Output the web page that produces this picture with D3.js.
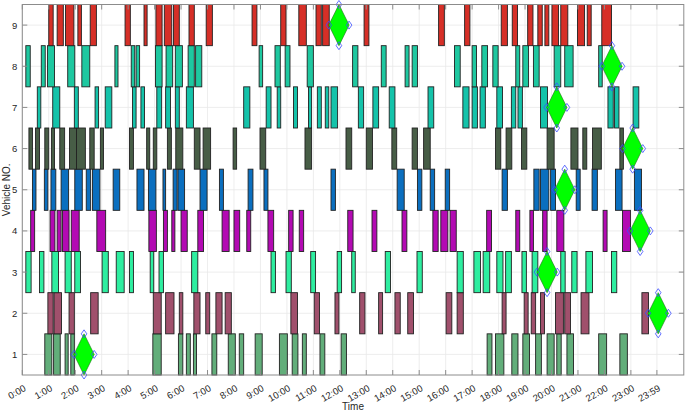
<!DOCTYPE html>
<html><head><meta charset="utf-8">
<script src="https://cdn.jsdelivr.net/npm/d3@7"></script>
<style>body{margin:0;background:#fff}svg{display:block;font-family:"Liberation Sans",Arial,Helvetica,sans-serif}</style>
</head><body><svg id="c" width="685" height="412"></svg>
<script>
// Time intervals (minutes from midnight) per vehicle row
const row1 = [[51,67],[71,86],[97,104],[110,118],[296,315],[354,364],[372,381],[388,395],[430,441],[467,483],[492,502],[528,544],[583,601],[612,625],[635,644],[675,686],[723,735],[1054,1065],[1073,1092],[1110,1124],[1135,1150],[1164,1177],[1190,1206],[1212,1222],[1235,1250],[1307,1325],[1355,1372]];
const row2 = [[58,70],[72,89],[106,118],[155,172],[297,315],[325,344],[356,364],[389,403],[416,425],[439,453],[460,474],[609,624],[662,674],[709,718],[765,777],[808,817],[845,857],[874,887],[961,974],[986,1000],[1088,1097],[1138,1147],[1154,1164],[1175,1184],[1209,1227],[1230,1243],[1267,1285],[1405,1420]];
const row3 = [[8,20],[39,49],[67,82],[97,111],[119,132],[181,195],[213,231],[243,252],[290,298],[310,320],[384,398],[564,574],[598,610],[654,665],[714,724],[747,755],[823,835],[895,907],[986,1000],[1024,1039],[1045,1060],[1076,1090],[1096,1109],[1133,1143],[1156,1169],[1221,1231],[1246,1258],[1278,1293],[1336,1348]];
const row4 = [[19,28],[63,74],[79,88],[91,106],[111,129],[169,189],[287,304],[320,329],[339,346],[360,374],[398,411],[453,469],[480,493],[509,518],[557,570],[604,614],[628,638],[738,750],[793,804],[861,872],[931,943],[949,965],[970,984],[1053,1064],[1119,1128],[1151,1159],[1180,1190],[1212,1228],[1317,1326],[1361,1379]];
const row5 = [[23,31],[50,58],[65,76],[88,105],[119,136],[145,155],[159,176],[206,221],[260,276],[286,303],[319,325],[342,351],[353,368],[403,419],[447,456],[512,523],[548,557],[700,710],[850,866],[896,906],[925,935],[959,969],[1088,1100],[1160,1172],[1175,1194],[1198,1209],[1256,1265],[1292,1304],[1345,1360],[1388,1404]];
const row6 = [[15,23],[30,39],[51,60],[66,73],[85,96],[107,123],[123,143],[153,163],[177,184],[243,252],[282,289],[297,305],[329,338],[348,364],[390,403],[410,427],[478,486],[539,552],[641,656],[734,747],[780,794],[838,849],[884,896],[910,925],[1073,1085],[1097,1110],[1132,1144],[1190,1206],[1244,1260],[1271,1280],[1293,1313],[1355,1363]];
const row7 = [[34,42],[69,85],[118,127],[165,173],[188,203],[250,258],[269,277],[305,316],[325,336],[347,356],[372,388],[502,516],[553,564],[578,586],[615,624],[649,656],[669,678],[687,695],[700,715],[762,774],[795,808],[832,845],[920,933],[999,1013],[1020,1032],[1038,1050],[1076,1089],[1109,1119],[1124,1134],[1175,1191],[1328,1340],[1343,1353],[1385,1398]];
const row8 = [[8,18],[43,52],[57,73],[103,119],[135,153],[210,217],[247,255],[258,266],[302,317],[326,341],[347,363],[376,390],[393,407],[537,545],[573,585],[596,607],[646,660],[749,761],[814,825],[868,877],[884,896],[980,993],[1020,1030],[1042,1055],[1067,1079],[1119,1128],[1135,1148],[1159,1172],[1206,1221],[1230,1249],[1307,1315]];
const row9 = [[60,70],[79,93],[98,117],[126,134],[154,168],[233,245],[276,283],[303,317],[322,339],[343,356],[378,390],[417,431],[521,532],[586,598],[627,644],[666,678],[681,696],[775,786],[944,957],[1003,1015],[1086,1100],[1111,1123],[1146,1158],[1169,1179],[1185,1194],[1201,1216],[1221,1237],[1259,1275],[1281,1290],[1314,1336]];
const vehicles = [1,2,3,4,5,6,7,8,9];
const rowColors = ["#62ae7a","#a0506c","#2eeea0","#b30ab3","#0b6fbf","#475d46","#14c3aa","#1ec8a0","#d62f27"];
// diamond marker centre time per vehicle (1..9)
const diamondTimes = [140,1442,1190,1401,1230,1384,1212,1337,718];
const diamondHalfWidth = 23;
const xTickValues = [0,60,120,180,240,300,360,420,480,540,600,660,720,780,840,900,960,1020,1080,1140,1200,1260,1320,1380,1439];
const xTickLabels = ["0:00","1:00","2:00","3:00","4:00","5:00","6:00","7:00","8:00","9:00","10:00","11:00","12:00","13:00","14:00","15:00","16:00","17:00","18:00","19:00","20:00","21:00","22:00","23:00","23:59"];
const yTickValues = [1,2,3,4,5,6,7,8,9];

const rows = [row1,row2,row3,row4,row5,row6,row7,row8,row9];
const svg = d3.select("#c");
const L = 22.3, R = 683.8, T = 4.5, B = 375;
const x = d3.scaleLinear().domain([0,1500]).range([L,R]);
const y = d3.scaleLinear().domain([0.5,9.5]).range([B,T]);
const txt = "#262626", axc = "#8c8c8c";

// grid
const g = svg.append("g");
g.selectAll(".gx").data(xTickValues).enter().append("line")
  .attr("x1",d=>x(d)).attr("x2",d=>x(d)).attr("y1",T).attr("y2",B)
  .attr("stroke","#e8e8e8").attr("stroke-width",0.8);
g.selectAll(".gy").data(yTickValues).enter().append("line")
  .attr("y1",d=>y(d)).attr("y2",d=>y(d)).attr("x1",L).attr("x2",R)
  .attr("stroke","#e8e8e8").attr("stroke-width",0.8);

// bars
rows.forEach((arr,i)=>{
  const v = vehicles[i];
  svg.append("g").selectAll("rect").data(arr).enter().append("rect")
    .attr("x",d=>x(d[0])).attr("width",d=>x(d[1])-x(d[0]))
    .attr("y",y(v+0.5)).attr("height",y(v-0.5)-y(v+0.5))
    .attr("fill",rowColors[i]).attr("stroke","#222").attr("stroke-width",0.9);
});

// diamonds
const dg = svg.append("g");
diamondTimes.forEach((t,i)=>{
  const v = vehicles[i];
  const pts = [[t-diamondHalfWidth,v],[t,v+0.5],[t+diamondHalfWidth,v],[t,v-0.5]];
  dg.append("path").attr("d", d3.line().x(p=>x(p[0])).y(p=>y(p[1])).curve(d3.curveLinearClosed)(pts))
    .attr("fill","#00ff00").attr("stroke","#1f6f1f").attr("stroke-width",0.6);
  dg.selectAll(null).data(pts).enter().append("path")
    .attr("transform",p=>`translate(${x(p[0])},${y(p[1])})`)
    .attr("d","M0,-4L2.8,0L0,4L-2.8,0Z")
    .attr("fill","none").attr("stroke","#3b4cff").attr("stroke-width",0.8);
});

// axes box & ticks
const ax = svg.append("g");
ax.append("rect").attr("x",L).attr("y",T).attr("width",R-L).attr("height",B-T)
  .attr("fill","none").attr("stroke",axc).attr("stroke-width",1);
ax.selectAll(".tb").data(xTickValues).enter().append("line")
  .attr("x1",d=>x(d)).attr("x2",d=>x(d)).attr("y1",B).attr("y2",B-5).attr("stroke",axc);
ax.selectAll(".tt").data(xTickValues).enter().append("line")
  .attr("x1",d=>x(d)).attr("x2",d=>x(d)).attr("y1",T).attr("y2",T+5).attr("stroke",axc);
ax.selectAll(".tl").data(yTickValues).enter().append("line")
  .attr("y1",d=>y(d)).attr("y2",d=>y(d)).attr("x1",L).attr("x2",L+5).attr("stroke",axc);
ax.selectAll(".tr").data(yTickValues).enter().append("line")
  .attr("y1",d=>y(d)).attr("y2",d=>y(d)).attr("x1",R).attr("x2",R-5).attr("stroke",axc);

// x tick labels
ax.selectAll(".xl").data(xTickValues).enter().append("text")
  .attr("transform",(d)=>`translate(${x(d)+3},${B+13}) rotate(-30)`)
  .attr("text-anchor","end").attr("dominant-baseline","middle")
  .attr("font-size",9.5).attr("fill",txt)
  .text((d,i)=>xTickLabels[i]);
// y tick labels
ax.selectAll(".yl").data(yTickValues).enter().append("text")
  .attr("x",L-5).attr("y",d=>y(d)).attr("text-anchor","end").attr("dominant-baseline","central")
  .attr("font-size",9.5).attr("fill",txt).text(d=>d);

svg.append("text").attr("x",(L+R)/2).attr("y",410).attr("text-anchor","middle")
  .attr("font-size",10).attr("fill",txt).text("Time");
svg.append("text").attr("transform",`translate(10,${(T+B)/2}) rotate(-90)`)
  .attr("text-anchor","middle").attr("font-size",10).attr("fill",txt).text("Vehicle NO.");
</script></body></html>
